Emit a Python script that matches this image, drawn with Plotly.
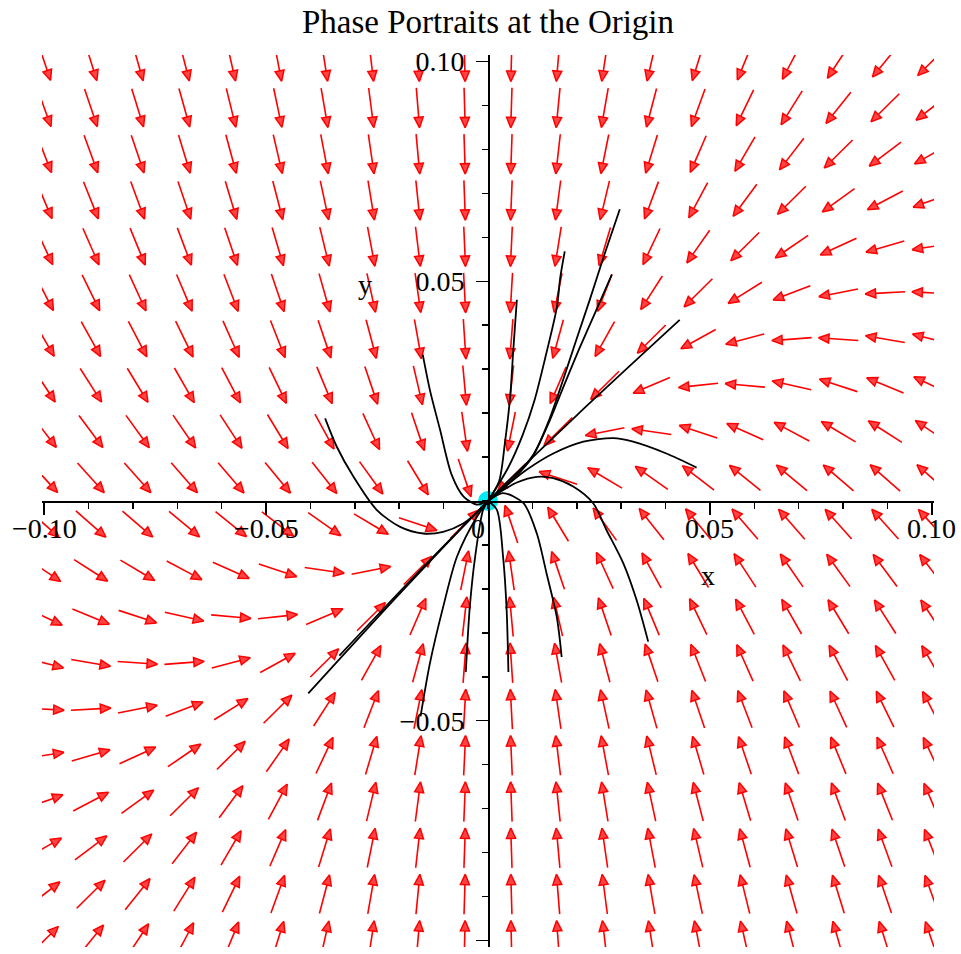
import math
import numpy as np
import plotly.graph_objects as go

# ---------------- data ----------------
chart_title = "Phase Portraits at the Origin"

# linear part of the system:  x' = a*x + b*y ,  y' = c*x + d*y
coef_a, coef_b = -1.0, 0.0
coef_c, coef_d = 1.0, -2.0

# direction-field grid (20 x 20 points over the window)
grid_x = list(np.linspace(-0.1, 0.1, 20))
grid_y = list(np.linspace(-0.1, 0.1, 20))

# axis ticks
x_tick_vals = [-0.10, -0.05, 0.0, 0.05, 0.10]
x_tick_text = ["\u22120.10", "\u22120.05", "0", "0.05", "0.10"]
y_tick_vals = [-0.10, -0.05, 0.05, 0.10]
y_tick_text = ["\u22120.10", "\u22120.05", "0.05", "0.10"]

# solution curves, each ends at the equilibrium
curve_a_x = [0.0297, 0.0262, 0.0230, 0.0200, 0.0168, 0.0138, 0.0100, 0.0055, 0.0]
curve_a_y = [0.0664, 0.0560, 0.0460, 0.0370, 0.0272, 0.0185, 0.0100, 0.0048, 0.0]
curve_n_x = [0.0279, 0.0242, 0.0205, 0.0172, 0.0140, 0.0102, 0.0056, 0.0]
curve_n_y = [0.0515, 0.0430, 0.0345, 0.0265, 0.0185, 0.0105, 0.0050, 0.0]
curve_b_x = [0.0173, 0.0163, 0.0155, 0.0130, 0.0105, 0.0078, 0.0045, 0.0]
curve_b_y = [0.0568, 0.0510, 0.0440, 0.0330, 0.0230, 0.0150, 0.0075, 0.0]
curve_c_x = [0.0065, 0.0057, 0.0050, 0.0038, 0.0025, 0.0]
curve_c_y = [0.0458, 0.0344, 0.0238, 0.0131, 0.0045, 0.0]
curve_d_x = [-0.0147, -0.0131, -0.0108, -0.0082, -0.0055, -0.0025, 0.0]
curve_d_y = [0.0333, 0.0253, 0.0162, 0.0060, 0.0010, -0.0008, 0.0]
curve_e_x = [-0.0367, -0.0341, -0.0303, -0.0251, -0.0198, -0.0146, -0.0101, -0.0056, -0.0018, 0.0]
curve_e_y = [0.0188, 0.0124, 0.0055, -0.0020, -0.0059, -0.0074, -0.0070, -0.0051, -0.0020, 0.0]
curve_f_x = [0.0470, 0.0402, 0.0327, 0.0282, 0.0215, 0.0147, 0.0087, 0.0045, 0.0]
curve_f_y = [0.0076, 0.0108, 0.0135, 0.0143, 0.0135, 0.0108, 0.0071, 0.0038, 0.0]
curve_g_x = [0.0361, 0.0335, 0.0305, 0.0267, 0.0237, 0.0192, 0.0147, 0.0110, 0.0065, 0.0030, 0.0]
curve_g_y = [-0.0320, -0.0226, -0.0142, -0.0066, -0.0005, 0.0033, 0.0052, 0.0055, 0.0042, 0.0022, 0.0]
curve_h_x = [0.0166, 0.0155, 0.0132, 0.0110, 0.0080, 0.0034, 0.0]
curve_h_y = [-0.0355, -0.0264, -0.0165, -0.0074, -0.0005, 0.0018, 0.0]
curve_i_x = [0.0046, 0.0042, 0.0034, 0.0020, 0.0]
curve_i_y = [-0.0389, -0.0248, -0.0127, -0.0020, 0.0]
curve_j_x = [-0.0050, -0.0041, -0.0029, -0.0011, 0.0]
curve_j_y = [-0.0389, -0.0241, -0.0127, -0.0020, 0.0]
curve_k_x = [-0.0152, -0.0131, -0.0101, -0.0070, -0.0025, 0.0]
curve_k_y = [-0.0490, -0.0370, -0.0241, -0.0127, -0.0036, 0.0]
curve_l_x = [0.0432, 0.0200, 0.0, -0.0200, -0.0405]
curve_l_y = [0.0412, 0.0195, 0.0, -0.0212, -0.0438]
curve_m_x = [-0.0335, -0.0160, 0.0]
curve_m_y = [-0.0352, -0.0165, 0.0]

equilibrium_x = [0.0]
equilibrium_y = [0.0]

# ---------------- layout geometry ----------------
W, H = 961, 954
ML, MR, MT, MB = 42, 27, 55, 7
x_range = [-0.1005, 0.1005]
y_range = [-0.1015, 0.1015]
sx = (W - ML - MR) / (x_range[1] - x_range[0])   # px per unit
sy = (H - MT - MB) / (y_range[1] - y_range[0])

RED = "rgb(255,0,0)"
FONT = "Liberation Serif"

# ---------------- direction field ----------------
L_PX, HEAD_L, HEAD_W = 40.0, 10.5, 4.5
shaft_x, shaft_y, head_x, head_y = [], [], [], []
for gx in grid_x:
    for gy in grid_y:
        u = coef_a * gx + coef_b * gy
        v = coef_c * gx + coef_d * gy
        pu, pv = u * sx, v * sy
        n = math.hypot(pu, pv)
        if n == 0:
            continue
        ux, uy = pu / n, pv / n
        tail = (gx - 0.5 * L_PX * ux / sx, gy - 0.5 * L_PX * uy / sy)
        tip = (gx + 0.5 * L_PX * ux / sx, gy + 0.5 * L_PX * uy / sy)
        base = (tip[0] - HEAD_L * ux / sx, tip[1] - HEAD_L * uy / sy)
        nx, ny = -uy, ux
        c1 = (base[0] + HEAD_W * nx / sx, base[1] + HEAD_W * ny / sy)
        c2 = (base[0] - HEAD_W * nx / sx, base[1] - HEAD_W * ny / sy)
        shaft_x += [tail[0], base[0], None]
        shaft_y += [tail[1], base[1], None]
        head_x += [tip[0], c1[0], c2[0], tip[0], None]
        head_y += [tip[1], c1[1], c2[1], tip[1], None]

fig = go.Figure()
fig.add_trace(go.Scatter(x=shaft_x, y=shaft_y, mode="lines",
                         line=dict(color=RED, width=1.6),
                         hoverinfo="skip", showlegend=False))
fig.add_trace(go.Scatter(x=head_x, y=head_y, mode="lines", fill="toself",
                         fillcolor="rgba(255,20,20,0.8)",
                         line=dict(color=RED, width=1.5),
                         hoverinfo="skip", showlegend=False))

fig.add_trace(go.Scatter(x=equilibrium_x, y=equilibrium_y, mode="markers",
                         marker=dict(size=20, color="rgb(0,235,245)"),
                         hoverinfo="skip", showlegend=False))

curves = [
    (curve_a_x, curve_a_y), (curve_n_x, curve_n_y), (curve_b_x, curve_b_y),
    (curve_c_x, curve_c_y), (curve_d_x, curve_d_y), (curve_e_x, curve_e_y),
    (curve_f_x, curve_f_y), (curve_g_x, curve_g_y), (curve_h_x, curve_h_y),
    (curve_i_x, curve_i_y), (curve_j_x, curve_j_y), (curve_k_x, curve_k_y),
    (curve_l_x, curve_l_y), (curve_m_x, curve_m_y),
]
for cx, cy in curves:
    fig.add_trace(go.Scatter(x=cx, y=cy, mode="lines",
                             line=dict(color="black", width=1.8, shape="spline", smoothing=0.8),
                             hoverinfo="skip", showlegend=False))

axis_common = dict(
    showline=True, linecolor="black", linewidth=1.6,
    ticks="outside", ticklen=12, tickwidth=1.5, tickcolor="black",
    tickmode="array",
    tickfont=dict(family=FONT, size=28, color="black"),
    showgrid=False, zeroline=False,
    anchor="free", position=0.5,
    minor=dict(ticks="outside", ticklen=6, tickwidth=1.5, tickcolor="black",
               tickmode="linear", tick0=0, dtick=0.01, showgrid=False),
)

tick_font = dict(family=FONT, size=28, color="black")
annotations = []
for tv, tt in zip(x_tick_vals, x_tick_text):
    annotations.append(dict(x=(tv - 0.0023) if tv == 0 else tv, y=0.0, xref="x", yref="y",
                            text=tt, showarrow=False, xanchor="center", yanchor="middle",
                            yshift=-27, font=tick_font))
annotations.append(dict(x=0.0495, y=-0.0169, xref="x", yref="y", text="x", showarrow=False,
                        font=tick_font))
annotations.append(dict(x=-0.0277, y=0.0492, xref="x", yref="y", text="y", showarrow=False,
                        font=tick_font))

fig.update_layout(
    width=W, height=H,
    margin=dict(l=ML, r=MR, t=MT, b=MB, pad=0),
    paper_bgcolor="white", plot_bgcolor="white",
    title=dict(text=chart_title, x=0.5, xref="paper", xanchor="center",
               y=1 - 21 / H, yref="container", yanchor="middle",
               font=dict(family=FONT, size=33, color="black")),
    xaxis=dict(range=x_range, tickvals=[v for v in x_tick_vals if v != 0],
               showticklabels=False, **axis_common),
    yaxis=dict(range=y_range, tickvals=y_tick_vals, ticktext=y_tick_text,
               ticklabelstandoff=6, **axis_common),
    annotations=annotations,
)

fig.write_html("out.html",
               config={"displayModeBar": False, "staticPlot": True},
               post_script="document.body.style.margin='0';document.body.style.padding='0';")
